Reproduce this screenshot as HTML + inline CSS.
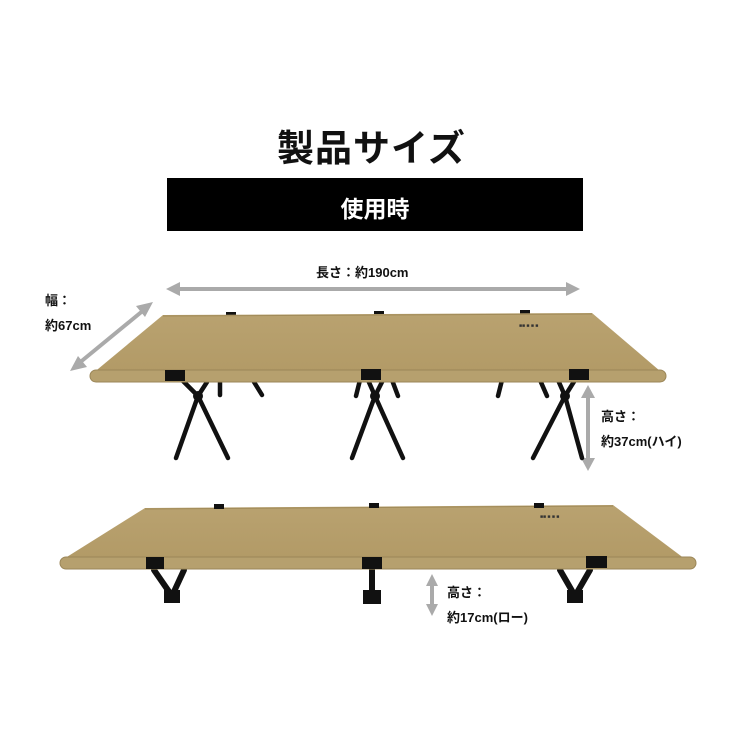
<!DOCTYPE html>
<html><head><meta charset="utf-8"><style>
html,body{margin:0;padding:0;background:#fff;}
body{width:733px;height:733px;position:relative;overflow:hidden;font-family:"Liberation Sans","Noto Sans CJK JP",sans-serif;}
.t{position:absolute;font-weight:bold;color:#111;}
</style></head><body>
<div class="t" style="left:0;width:743px;top:118px;font-size:37px;text-align:center;letter-spacing:1px;">製品サイズ</div>
<div style="position:absolute;left:167px;top:178px;width:416px;height:53px;background:#000;"></div>
<div class="t" style="left:167px;width:416px;top:190px;font-size:23px;text-align:center;color:#fff;">使用時</div>
<svg width="733" height="733" style="position:absolute;left:0;top:0">
<defs><linearGradient id="g" x1="0" y1="0" x2="0" y2="1"><stop offset="0" stop-color="#b9a270"/><stop offset="1" stop-color="#b29a66"/></linearGradient></defs>
<g fill="#aaa" stroke="#aaa">
<line x1="176" y1="289" x2="570" y2="289" stroke-width="4"/>
<polygon points="166,289 180,282 180,296" stroke="none"/>
<polygon points="580,289 566,282 566,296" stroke="none"/>
<line x1="145" y1="309" x2="78" y2="364" stroke-width="4"/>
<polygon points="153,302 136,306 145,317" stroke="none"/>
<polygon points="70,371 87,367 78,356" stroke="none"/>
<line x1="588" y1="394" x2="588" y2="462" stroke-width="4"/>
<polygon points="588,385 581,398 595,398" stroke="none"/>
<polygon points="588,471 581,458 595,458" stroke="none"/>
<line x1="432" y1="582" x2="432" y2="608" stroke-width="4"/>
<polygon points="432,574 426,586 438,586" stroke="none"/>
<polygon points="432,616 426,604 438,604" stroke="none"/>
</g>
<!-- top cot legs -->
<g stroke="#111" stroke-width="4.5" stroke-linecap="round">
<line x1="182" y1="380" x2="198" y2="396"/><line x1="207" y1="382" x2="198" y2="396"/>
<line x1="198" y1="396" x2="176" y2="458"/><line x1="198" y1="396" x2="228" y2="458"/>
<line x1="220" y1="380" x2="220" y2="395"/><line x1="254" y1="382" x2="262" y2="395"/>
<line x1="368" y1="380" x2="375" y2="396"/><line x1="383" y1="380" x2="375" y2="396"/>
<line x1="375" y1="396" x2="352" y2="458"/><line x1="375" y1="396" x2="403" y2="458"/>
<line x1="360" y1="380" x2="356" y2="396"/><line x1="392" y1="380" x2="398" y2="396"/>
<line x1="558" y1="380" x2="565" y2="396"/><line x1="575" y1="380" x2="565" y2="396"/>
<line x1="565" y1="396" x2="533" y2="458"/><line x1="565" y1="396" x2="582" y2="458"/>
<line x1="502" y1="380" x2="498" y2="396"/><line x1="540" y1="380" x2="547" y2="396"/>
</g>
<g fill="#111">
<circle cx="198" cy="396" r="5"/><circle cx="375" cy="396" r="5"/><circle cx="565" cy="396" r="5"/>
<rect x="226" y="312" width="10" height="5"/><rect x="374" y="311" width="10" height="5"/><rect x="520" y="310" width="10" height="5"/>
</g>
<polygon points="163,315 592,313 660,371 92,374" fill="url(#g)"/>
<line x1="163" y1="316" x2="592" y2="314" stroke="#a08a58" stroke-width="1"/>
<rect x="90" y="370" width="576" height="12" rx="6" fill="#b6a06e" stroke="#9b8658" stroke-width="1"/>
<rect x="165" y="370" width="20" height="11" fill="#111"/><rect x="361" y="369" width="20" height="11" fill="#111"/><rect x="569" y="369" width="20" height="11" fill="#111"/>
<text x="519" y="327" font-size="5" fill="#333" font-family="Liberation Sans">■■ ■ ■ ■</text>
<!-- bottom cot -->
<g stroke="#111" stroke-width="6" stroke-linecap="round">
<line x1="154" y1="570" x2="172" y2="596"/><line x1="184" y1="570" x2="172" y2="596"/>
<line x1="372" y1="566" x2="372" y2="595"/>
<line x1="560" y1="570" x2="575" y2="596"/><line x1="590" y1="570" x2="575" y2="596"/>
</g>
<g fill="#111"><rect x="164" y="590" width="16" height="13"/><rect x="363" y="590" width="18" height="14"/><rect x="567" y="590" width="16" height="13"/></g>
<polygon points="145,508 613,505 685,559 62,560" fill="url(#g)"/>
<line x1="145" y1="509" x2="613" y2="506" stroke="#a08a58" stroke-width="1"/>
<rect x="60" y="557" width="636" height="12" rx="6" fill="#b6a06e" stroke="#9b8658" stroke-width="1"/>
<rect x="146" y="557" width="18" height="12" fill="#111"/><rect x="362" y="557" width="20" height="12" fill="#111"/><rect x="586" y="556" width="21" height="12" fill="#111"/>
<g fill="#111"><rect x="214" y="504" width="10" height="5"/><rect x="369" y="503" width="10" height="5"/><rect x="534" y="503" width="10" height="5"/></g>
<text x="540" y="518" font-size="5" fill="#333" font-family="Liberation Sans">■■ ■ ■ ■</text>
</svg>
<div class="t" style="left:316px;top:262px;font-size:13px;">長さ：約190cm</div>
<div class="t" style="left:45px;top:288px;font-size:13px;line-height:25px;">幅：<br>約67cm</div>
<div class="t" style="left:601px;top:404px;font-size:13px;line-height:25px;">高さ：<br>約37cm(ハイ)</div>
<div class="t" style="left:447px;top:580px;font-size:13px;line-height:25px;">高さ：<br>約17cm(ロー)</div>
</body></html>
